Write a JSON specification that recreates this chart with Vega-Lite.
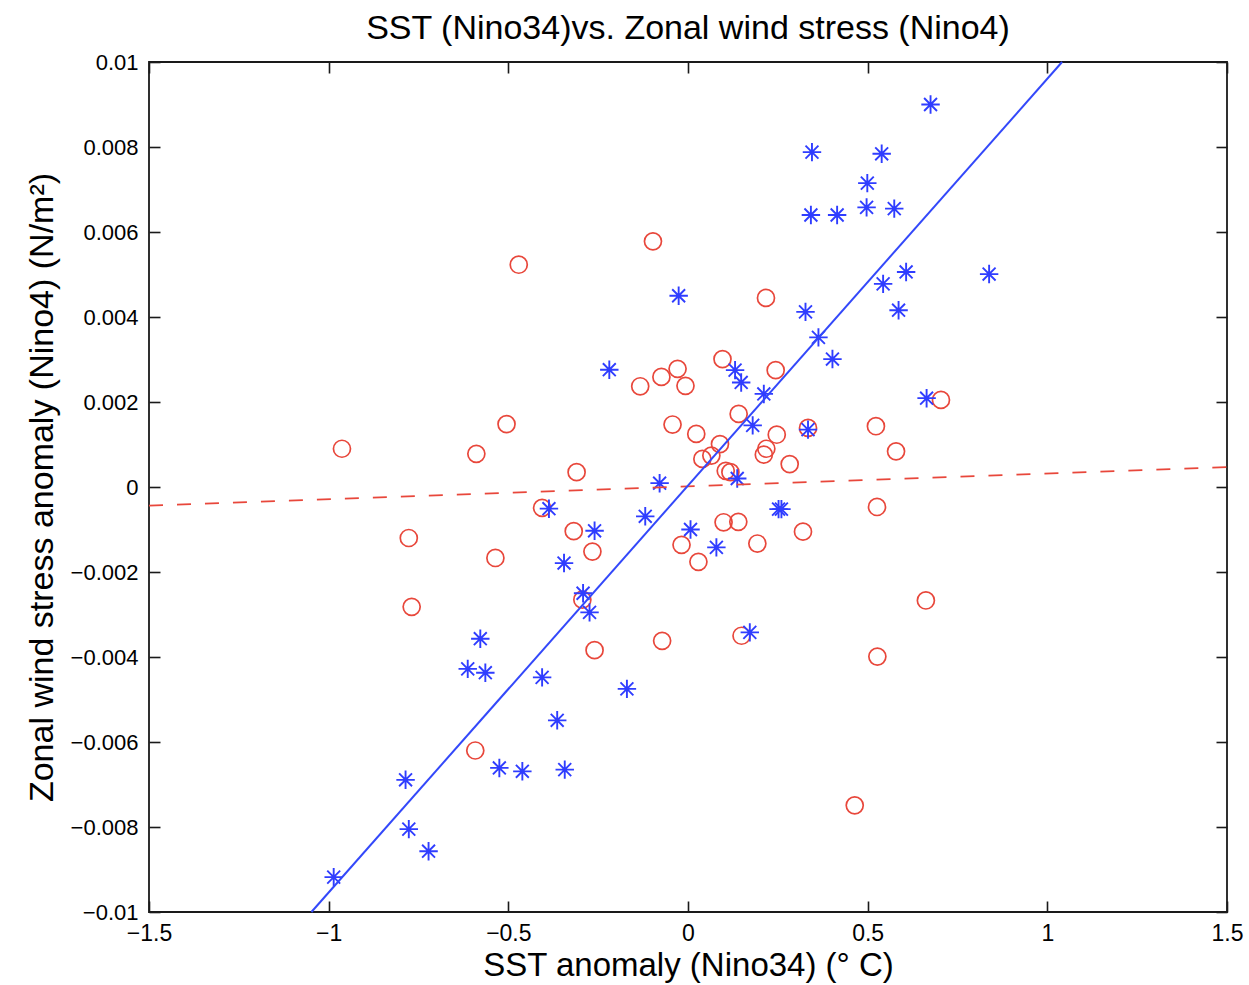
{
  "$schema": "https://vega.github.io/schema/vega-lite/v6.json",
  "width": 1078,
  "height": 850,
  "autosize": {"type": "none"},
  "padding": {"left": 149, "top": 62, "right": 22, "bottom": 73},
  "background": "white",
  "config": {
    "view": {"stroke": "#1a1a1a", "strokeWidth": 1.8},
    "font": "Liberation Sans"
  },
  "title": {
    "text": "SST (Nino34)vs. Zonal wind stress (Nino4)",
    "fontSize": 34,
    "fontWeight": "normal",
    "font": "Liberation Sans",
    "color": "black",
    "offset": 5,
    "anchor": "middle"
  },
  "datasets": {
    "red": [
      {"sst": -0.963, "tau": 0.00090}, {"sst": -0.589, "tau": 0.00078}, {"sst": -0.505, "tau": 0.00148},
      {"sst": -0.471, "tau": 0.00523}, {"sst": -0.0975, "tau": 0.00578}, {"sst": 0.217, "tau": 0.00445},
      {"sst": -0.133, "tau": 0.00237}, {"sst": -0.074, "tau": 0.00259}, {"sst": -0.029, "tau": 0.00278},
      {"sst": -0.007, "tau": 0.00238}, {"sst": 0.096, "tau": 0.00301}, {"sst": 0.244, "tau": 0.00275},
      {"sst": -0.310, "tau": 0.00035}, {"sst": -0.043, "tau": 0.00147}, {"sst": 0.023, "tau": 0.00125},
      {"sst": 0.141, "tau": 0.00172}, {"sst": 0.247, "tau": 0.00123}, {"sst": 0.334, "tau": 0.00139},
      {"sst": 0.523, "tau": 0.00143}, {"sst": 0.089, "tau": 0.00101}, {"sst": 0.065, "tau": 0.00074},
      {"sst": 0.040, "tau": 0.00066}, {"sst": 0.218, "tau": 0.00090}, {"sst": 0.211, "tau": 0.00076},
      {"sst": 0.283, "tau": 0.00054}, {"sst": 0.105, "tau": 0.00038}, {"sst": 0.118, "tau": 0.00035},
      {"sst": 0.704, "tau": 0.00205}, {"sst": 0.579, "tau": 0.00084}, {"sst": -0.777, "tau": -0.00120},
      {"sst": -0.536, "tau": -0.00167}, {"sst": -0.769, "tau": -0.00282}, {"sst": -0.592, "tau": -0.00620},
      {"sst": -0.406, "tau": -0.00049}, {"sst": -0.318, "tau": -0.00104}, {"sst": -0.266, "tau": -0.00152},
      {"sst": -0.018, "tau": -0.00136}, {"sst": 0.029, "tau": -0.00176}, {"sst": 0.099, "tau": -0.00083},
      {"sst": 0.140, "tau": -0.00082}, {"sst": 0.193, "tau": -0.00133}, {"sst": 0.320, "tau": -0.00105},
      {"sst": 0.526, "tau": -0.00047}, {"sst": -0.294, "tau": -0.00265}, {"sst": -0.260, "tau": -0.00384},
      {"sst": -0.072, "tau": -0.00362}, {"sst": 0.149, "tau": -0.00350}, {"sst": 0.464, "tau": -0.00749},
      {"sst": 0.662, "tau": -0.00267}, {"sst": 0.527, "tau": -0.00399}
    ],
    "blue": [
      {"sst": 0.675, "tau": 0.00900}, {"sst": 0.345, "tau": 0.00788}, {"sst": 0.539, "tau": 0.00784},
      {"sst": 0.499, "tau": 0.00715}, {"sst": 0.342, "tau": 0.00640}, {"sst": 0.415, "tau": 0.00640},
      {"sst": 0.497, "tau": 0.00658}, {"sst": 0.574, "tau": 0.00655}, {"sst": -0.026, "tau": 0.00450},
      {"sst": 0.327, "tau": 0.00412}, {"sst": 0.607, "tau": 0.00506}, {"sst": 0.838, "tau": 0.00501},
      {"sst": 0.543, "tau": 0.00478}, {"sst": 0.586, "tau": 0.00416}, {"sst": 0.363, "tau": 0.00352},
      {"sst": 0.402, "tau": 0.00301}, {"sst": -0.219, "tau": 0.00276}, {"sst": 0.131, "tau": 0.00275},
      {"sst": 0.148, "tau": 0.00246}, {"sst": 0.211, "tau": 0.00219}, {"sst": 0.180, "tau": 0.00145},
      {"sst": 0.334, "tau": 0.00135}, {"sst": 0.664, "tau": 0.00209}, {"sst": 0.137, "tau": 0.00020},
      {"sst": -0.079, "tau": 0.00009}, {"sst": -0.387, "tau": -0.00051}, {"sst": -0.260, "tau": -0.00103},
      {"sst": -0.119, "tau": -0.00069}, {"sst": 0.007, "tau": -0.00100}, {"sst": 0.079, "tau": -0.00142},
      {"sst": 0.252, "tau": -0.00052}, {"sst": 0.260, "tau": -0.00052}, {"sst": -0.345, "tau": -0.00179},
      {"sst": -0.292, "tau": -0.00250}, {"sst": -0.274, "tau": -0.00295}, {"sst": 0.172, "tau": -0.00342},
      {"sst": -0.578, "tau": -0.00357}, {"sst": -0.613, "tau": -0.00428}, {"sst": -0.564, "tau": -0.00437},
      {"sst": -0.406, "tau": -0.00448}, {"sst": -0.170, "tau": -0.00475}, {"sst": -0.364, "tau": -0.00549},
      {"sst": -0.525, "tau": -0.00661}, {"sst": -0.461, "tau": -0.00669}, {"sst": -0.343, "tau": -0.00665},
      {"sst": -0.786, "tau": -0.00689}, {"sst": -0.777, "tau": -0.00805}, {"sst": -0.722, "tau": -0.00857},
      {"sst": -0.986, "tau": -0.00918}
    ],
    "redfit": [{"sst": -1.5, "tau": -0.00044}, {"sst": 1.5, "tau": 0.00047}],
    "bluefit": [{"sst": -1.048, "tau": -0.01}, {"sst": 1.041, "tau": 0.01}]
  },
  "resolve": {"axis": {"x": "independent", "y": "independent"}},
  "layer": [
    {
      "data": {"name": "red"},
      "mark": {"type": "point", "shape": "circle", "filled": false, "stroke": "#e8473b", "strokeWidth": 1.7, "size": 290, "opacity": 1},
      "encoding": {
        "x": {
          "field": "sst", "type": "quantitative",
          "scale": {"domain": [-1.5, 1.5], "nice": false, "zero": false},
          "axis": {
            "orient": "bottom",
            "values": [-1.5, -1, -0.5, 0, 0.5, 1, 1.5],
            "format": "~g",
            "ticks": false, "domain": false, "grid": false,
            "labelFontSize": 23, "labelFont": "Liberation Sans", "labelColor": "black",
            "labelPadding": 10, "labelFlush": false, "labelOverlap": false,
            "title": "SST anomaly (Nino34) (° C)",
            "titleFontSize": 33, "titleFontWeight": "normal", "titleFont": "Liberation Sans", "titleColor": "black",
            "titlePadding": 4
          }
        },
        "y": {
          "field": "tau", "type": "quantitative",
          "scale": {"domain": [-0.01, 0.01], "nice": false, "zero": false},
          "axis": {
            "orient": "left",
            "values": [-0.01, -0.008, -0.006, -0.004, -0.002, 0, 0.002, 0.004, 0.006, 0.008, 0.01],
            "format": "~g",
            "ticks": false, "domain": false, "grid": false,
            "labelFontSize": 22, "labelFont": "Liberation Sans", "labelColor": "black",
            "labelPadding": 11, "labelFlush": false, "labelOverlap": false,
            "title": "Zonal wind stress anomaly (Nino4) (N/m²)",
            "titleFontSize": 34, "titleFontWeight": "normal", "titleFont": "Liberation Sans", "titleColor": "black",
            "titlePadding": 11
          }
        }
      }
    },
    {
      "data": {"name": "blue"},
      "mark": {"type": "point", "shape": "M0,-1L0,1M-1,0L1,0M-0.7,-0.7L0.7,0.7M-0.7,0.7L0.7,-0.7", "filled": false, "stroke": "#2f3dff", "strokeWidth": 1.9, "size": 340, "opacity": 1},
      "encoding": {
        "x": {
          "field": "sst", "type": "quantitative",
          "axis": {
            "orient": "bottom", "values": [-1.5, -1, -0.5, 0, 0.5, 1, 1.5],
            "labels": false, "domain": false, "grid": false, "ticks": true,
            "tickSize": 11, "tickColor": "#1a1a1a", "tickWidth": 1.6, "offset": -11, "title": null
          }
        },
        "y": {
          "field": "tau", "type": "quantitative",
          "axis": {
            "orient": "left", "values": [-0.01, -0.008, -0.006, -0.004, -0.002, 0, 0.002, 0.004, 0.006, 0.008, 0.01],
            "labels": false, "domain": false, "grid": false, "ticks": true,
            "tickSize": 11, "tickColor": "#1a1a1a", "tickWidth": 1.6, "offset": -11, "title": null
          }
        }
      }
    },
    {
      "data": {"name": "redfit"},
      "mark": {"type": "line", "stroke": "#e8473b", "strokeWidth": 1.8, "strokeDash": [14, 14]},
      "encoding": {
        "x": {
          "field": "sst", "type": "quantitative",
          "axis": {
            "orient": "top", "values": [-1.5, -1, -0.5, 0, 0.5, 1, 1.5],
            "labels": false, "domain": false, "grid": false, "ticks": true,
            "tickSize": 11, "tickColor": "#1a1a1a", "tickWidth": 1.6, "offset": -11, "title": null
          }
        },
        "y": {
          "field": "tau", "type": "quantitative",
          "axis": {
            "orient": "right", "values": [-0.01, -0.008, -0.006, -0.004, -0.002, 0, 0.002, 0.004, 0.006, 0.008, 0.01],
            "labels": false, "domain": false, "grid": false, "ticks": true,
            "tickSize": 11, "tickColor": "#1a1a1a", "tickWidth": 1.6, "offset": -11, "title": null
          }
        }
      }
    },
    {
      "data": {"name": "bluefit"},
      "mark": {"type": "line", "stroke": "#3348fa", "strokeWidth": 2},
      "encoding": {
        "x": {"field": "sst", "type": "quantitative", "axis": null},
        "y": {"field": "tau", "type": "quantitative", "axis": null}
      }
    }
  ]
}
